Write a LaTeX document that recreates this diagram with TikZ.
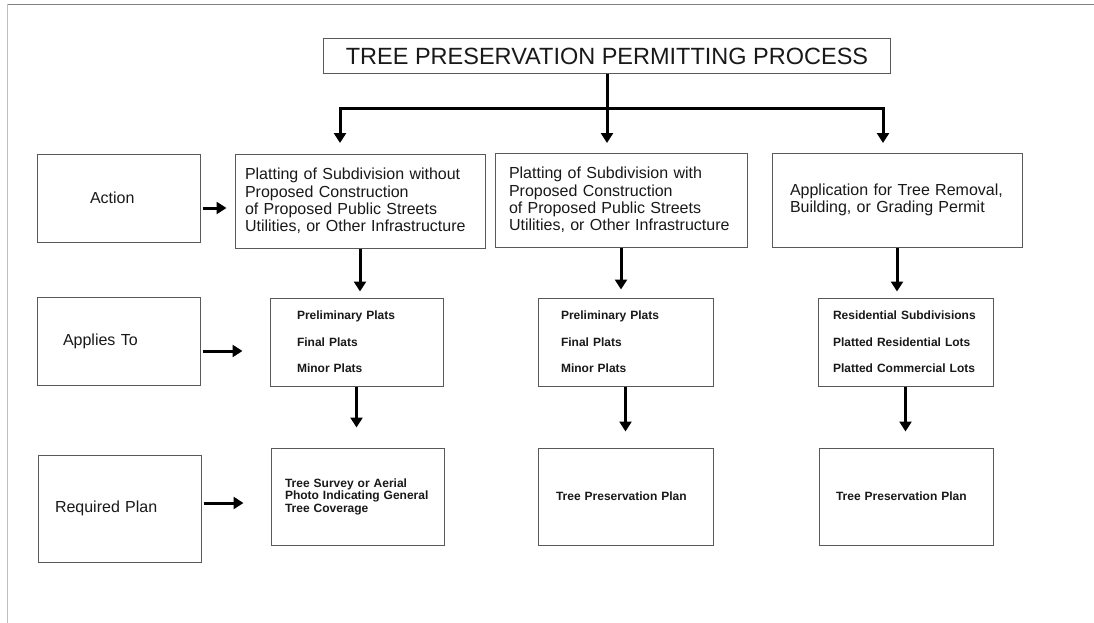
\documentclass[tikz,border=0pt]{standalone}
\usepackage{fontspec}
\setmainfont{Liberation Sans}
\usetikzlibrary{arrows.meta}

\begin{document}
\begin{tikzpicture}[x=1pt,y=-1pt,
  box/.style={draw=black!65,line width=1pt,fill=white,inner ysep=0pt,align=left,text=black!90},
  arr/.style={line width=3pt,-{Triangle[length=10pt,width=12pt]}},
  big/.style={font=\fontsize{16}{17.3}\selectfont},
  mid/.style={font=\bfseries\fontsize{12}{26.5}\selectfont},
  low/.style={font=\bfseries\fontsize{12}{12.5}\selectfont}]
\useasboundingbox (0,0) rectangle (1094,623);
\draw[black!50,line width=1.3pt] (7,4.3) -- (1094,4.3);
\draw[black!25,line width=1.3pt] (7.3,4.3) -- (7.3,623);

% title and the three branches
\node[box,minimum width=567pt,minimum height=35pt,align=center,font=\fontsize{23.5}{26}\selectfont] (title) at (607,56.5) {TREE PRESERVATION PERMITTING PROCESS};
\coordinate (b2) at (607,109);
\coordinate (e1) at (340,143);
\coordinate (e2) at (607,143);
\coordinate (e3) at (883,143);
\draw[arr] (b2) -| (e1);
\draw[arr] (b2) -| (e3);
\draw[arr] (title.south) -- (e2);

% left column
\node[box,big,minimum height=88pt,text width=57pt,inner xsep=53pt] (act) at (118.5,198) {Action};
\node[box,big,minimum height=88pt,text width=111pt,inner xsep=26pt] (app) at (118.5,341) {Applies To};
\node[box,big,minimum height=107pt,text width=129pt,inner xsep=17pt] (req) at (119.5,508.5) {Required Plan};

% actions
\node[box,big,minimum height=94pt,text width=230pt,inner xsep=10pt] (p1) at (360,201) {Platting of Subdivision without\\Proposed Construction\\of Proposed Public Streets\\Utilities, or Other Infrastructure};
\node[box,big,minimum height=94pt,text width=224pt,inner xsep=14pt] (p2) at (621,200) {Platting of Subdivision with\\Proposed Construction\\of Proposed Public Streets\\Utilities, or Other Infrastructure};
\node[box,big,minimum height=94pt,text width=214pt,inner xsep=18pt] (p3) at (897,200) {Application for Tree Removal,\\Building, or Grading Permit};

% applies to
\node[box,mid,minimum height=88pt,text width=119pt,inner xsep=27pt] (a1) at (356.5,342) {Preliminary Plats\\Final Plats\\Minor Plats};
\node[box,mid,minimum height=88pt,text width=129pt,inner xsep=23pt] (a2) at (625.5,342) {Preliminary Plats\\Final Plats\\Minor Plats};
\node[box,mid,minimum height=88pt,text width=145pt,inner xsep=15pt] (a3) at (905.5,342) {Residential Subdivisions\\Platted Residential Lots\\Platted Commercial Lots};

% required plans
\node[box,low,minimum height=97pt,text width=145pt,inner xsep=14pt] (r1) at (357.5,496.5) {Tree Survey or Aerial\\Photo Indicating General\\Tree Coverage};
\node[box,low,minimum height=97pt,text width=139pt,inner xsep=18pt] (r2) at (625.5,496.5) {Tree Preservation Plan};
\node[box,low,minimum height=97pt,text width=140pt,inner xsep=17pt] (r3) at (906,496.5) {Tree Preservation Plan};

% arrows
\draw[arr,shorten <=2pt,shorten >=8pt] ([yshift=-10pt]act.east) -- ([yshift=-10pt]act.east -| p1.west);
\draw[arr,shorten <=2pt,shorten >=27pt] ([yshift=-10pt]app.east) -- ([yshift=-10pt]app.east -| a1.west);
\draw[arr,shorten <=2pt,shorten >=27pt] ([yshift=5.5pt]req.east) -- ([yshift=5.5pt]req.east -| r1.west);
\foreach \u/\v/\s in {p1/a1/6,p2/a2/8,p3/a3/6}
  \draw[arr,shorten >=\s pt] (\u.south) -- (\u.south |- \v.north);
\foreach \u/\v/\s in {a1/r1/20,a2/r2/16,a3/r3/16}
  \draw[arr,shorten >=\s pt] (\u.south) -- (\u.south |- \v.north);
\end{tikzpicture}
\end{document}
